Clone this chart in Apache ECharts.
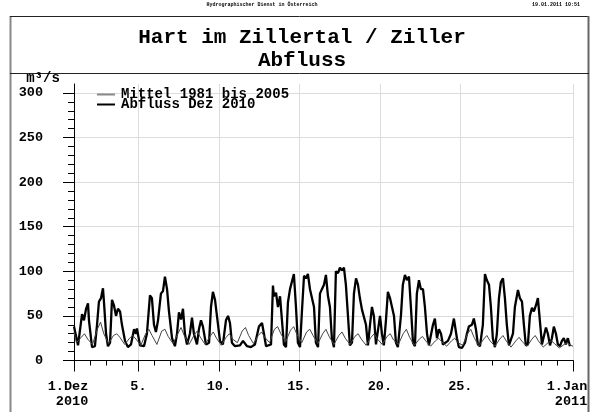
<!DOCTYPE html>
<html><head><meta charset="utf-8">
<script src="https://cdn.jsdelivr.net/npm/echarts@6/dist/echarts.min.js"></script>
<style>html,body{margin:0;padding:0;background:#fff}#c{width:596px;height:412px}</style>
</head><body><div id="c"></div>
<script>
// ---- data (x = days since 1 Dec 2010 00:00) ----
const seriesNames = ['Mittel 1981 bis 2005', 'Abfluss Dez 2010'];
const yMajorTicks = [0, 50, 100, 150, 200, 250, 300];
const yMinorTicks = [0,10,20,30,40,50,60,70,80,90,100,110,120,130,140,150,160,170,180,190,200,210,220,230,240,250,260,270,280,290,300];
const xMajorTicks = [0, 4, 9, 14, 19, 24, 31];
const xMinorTicks = [0,1,2,3,4,5,6,7,8,9,10,11,12,13,14,15,16,17,18,19,20,21,22,23,24,25,26,27,28,29,30,31];
const xTickLabels = ['1.Dez\n2010', '5.', '10.', '15.', '20.', '25.', '1.Jan\n2011'];

const abflussT = [0,0.12,0.25,0.37,0.50,0.62,0.75,0.87,0.93,1.12,1.30,1.43,1.55,1.68,1.80,1.86,1.99,2.11,2.24,2.36,2.48,2.61,2.73,2.86,2.98,3.17,3.35,3.54,3.73,3.85,3.91,4.10,4.35,4.53,4.72,4.84,4.97,5.09,5.22,5.40,5.53,5.65,5.78,5.90,6.09,6.27,6.40,6.52,6.65,6.77,6.89,7.02,7.20,7.33,7.45,7.64,7.76,7.89,8.01,8.20,8.39,8.51,8.63,8.76,8.88,9.07,9.25,9.44,9.57,9.69,9.81,10.00,10.12,10.31,10.50,10.75,10.99,11.24,11.49,11.68,11.80,11.93,12.05,12.24,12.36,12.42,12.55,12.67,12.80,12.92,13.04,13.17,13.29,13.42,13.54,13.66,13.79,13.91,14.04,14.16,14.29,14.41,14.53,14.66,14.78,14.91,15.03,15.16,15.28,15.40,15.53,15.65,15.78,15.90,16.02,16.15,16.27,16.40,16.52,16.65,16.77,16.89,17.02,17.14,17.27,17.39,17.52,17.64,17.76,17.89,18.01,18.14,18.26,18.39,18.51,18.63,18.76,18.88,19.01,19.13,19.25,19.38,19.50,19.63,19.75,19.88,20.00,20.12,20.31,20.43,20.56,20.68,20.81,20.93,21.06,21.18,21.30,21.43,21.55,21.68,21.80,21.93,22.05,22.17,22.30,22.42,22.55,22.67,22.80,22.92,23.04,23.23,23.42,23.60,23.79,23.91,24.10,24.29,24.41,24.53,24.72,24.84,24.97,25.09,25.22,25.40,25.53,25.65,25.78,25.90,26.02,26.15,26.27,26.40,26.52,26.65,26.77,26.89,27.02,27.14,27.27,27.39,27.58,27.70,27.83,27.95,28.07,28.20,28.32,28.45,28.57,28.70,28.82,28.94,29.07,29.19,29.32,29.44,29.57,29.69,29.81,29.94,30.06,30.19,30.31,30.43,30.56,30.68,30.81,31.00];
const abflussV = [38,28,17,15,52,45,58,64,45,15,16,40,66,70,81,66,30,16,20,68,62,50,58,55,40,22,15,18,35,30,36,17,16,30,73,70,40,32,45,75,78,94,80,55,25,16,30,54,46,58,30,18,30,48,30,18,35,45,38,18,20,60,77,68,50,22,18,45,50,42,20,16,15,17,22,16,15,18,38,42,30,16,15,18,84,72,76,60,72,45,18,15,65,80,78,97,60,20,15,55,95,92,97,80,82,60,20,15,75,80,85,96,72,60,25,15,100,98,104,101,104,85,50,17,20,75,92,85,70,57,58,40,17,40,60,50,18,20,50,30,17,45,77,70,72,50,20,15,50,85,96,90,94,60,20,16,75,90,80,80,60,30,17,18,40,47,25,35,30,18,17,22,30,47,25,15,14,20,30,38,40,47,35,18,16,40,97,90,85,60,25,15,30,70,88,92,70,40,17,16,30,60,79,70,66,40,17,18,50,59,55,62,70,45,18,20,37,30,17,25,38,30,18,16,22,25,18,25,16];

const mittelT = [0,0.15,0.45,0.65,0.85,1.15,1.45,1.65,1.85,2.15,2.45,2.65,2.85,3.15,3.45,3.65,3.85,4.15,4.45,4.65,4.85,5.15,5.45,5.65,5.85,6.15,6.45,6.65,6.85,7.15,7.45,7.65,7.85,8.15,8.45,8.65,8.85,9.15,9.45,9.65,9.85,10.15,10.45,10.65,10.85,11.15,11.45,11.65,11.85,12.15,12.45,12.65,12.85,13.15,13.45,13.65,13.85,14.15,14.45,14.65,14.85,15.15,15.45,15.65,15.85,16.15,16.45,16.65,16.85,17.15,17.45,17.65,17.85,18.15,18.45,18.65,18.85,19.15,19.45,19.65,19.85,20.15,20.45,20.65,20.85,21.15,21.45,21.65,21.85,22.15,22.45,22.65,22.85,23.15,23.45,23.65,23.85,24.15,24.45,24.65,24.85,25.15,25.45,25.65,25.85,26.15,26.45,26.65,26.85,27.15,27.45,27.65,27.85,28.15,28.45,28.65,28.85,29.15,29.45,29.65,29.85,30.15,30.45,30.65,30.85,31.00];
const mittelV = [32,20,26,30,24,18,35,43,30,19,28,30,26,18,25,28,24,17,30,35,28,18,33,35,27,19,30,37,28,18,28,33,26,18,27,32,25,17,26,30,24,20,33,37,28,19,28,32,26,20,35,38,30,21,34,38,29,20,32,35,28,19,30,35,27,18,28,32,25,18,27,30,24,17,26,30,24,18,27,30,23,18,30,35,26,17,24,27,22,16,22,25,21,16,22,25,20,17,30,35,26,16,24,28,22,16,24,28,22,15,22,26,21,16,24,28,22,15,20,22,19,14,18,20,17,16];

const FONT = 'Liberation Mono';
const pairs = (t, v) => t.map((x, i) => [x, v[i]]);

const chart = echarts.init(document.getElementById('c'), null, {renderer: 'canvas'});
const xBase = {type: 'value', min: 0, max: 31, position: 'bottom', gridIndex: 0};
const yBase = {type: 'value', min: 0, max: 310, position: 'left', gridIndex: 0};
chart.setOption({
  animation: false,
  backgroundColor: '#fff',
  grid: {left: 74, right: 23, top: 84, bottom: 51.5, containLabel: false, outerBoundsMode: 'none'},
  xAxis: [
    Object.assign({}, xBase, {
      axisLine: {show: true, onZero: false, lineStyle: {color: '#000', width: 1}},
      axisTick: {show: true, customValues: xMajorTicks, length: 11, lineStyle: {color: '#000', width: 1}},
      axisLabel: {show: true, customValues: xMajorTicks, margin: 19, color: '#000',
        fontFamily: FONT, fontWeight: 'bold', fontSize: 13.5, lineHeight: 15,
        formatter: v => { const i = xMajorTicks.indexOf(v); const s = xTickLabels[i];
          return s.indexOf('\n') >= 0 ? s.split('\n').map(p => '{r|' + p + '}').join('\n') : s; },
        rich: {r: {fontFamily: FONT, fontWeight: 'bold', fontSize: 13.5, lineHeight: 15, align: 'right', padding: [0, 12, 0, 0], color: '#000'}}},
      splitLine: {show: true, lineStyle: {color: '#dcdcdc', width: 1}}
    }),
    Object.assign({}, xBase, {
      axisLine: {show: false},
      axisTick: {show: true, customValues: xMinorTicks, length: 5, lineStyle: {color: '#000', width: 1}},
      axisLabel: {show: false},
      splitLine: {show: false}
    })
  ],
  yAxis: [
    Object.assign({}, yBase, {
      axisLine: {show: true, onZero: false, lineStyle: {color: '#000', width: 1}},
      axisTick: {show: true, customValues: yMajorTicks, length: 11, lineStyle: {color: '#000', width: 1}},
      axisLabel: {show: true, customValues: yMajorTicks, margin: 31, color: '#000',
        fontFamily: FONT, fontWeight: 'bold', fontSize: 13.5},
      splitLine: {show: true, lineStyle: {color: '#dcdcdc', width: 1}}
    }),
    Object.assign({}, yBase, {
      axisLine: {show: false},
      axisTick: {show: true, customValues: yMinorTicks, length: 6, lineStyle: {color: '#000', width: 1}},
      axisLabel: {show: false},
      splitLine: {show: false}
    })
  ],
  legend: {show: false},
  series: [
    {name: seriesNames[0], type: 'line', xAxisIndex: 0, yAxisIndex: 0, symbol: 'none', z: 3,
      lineStyle: {color: '#444', width: 1}, itemStyle: {color: '#777'}, data: pairs(mittelT, mittelV)},
    {name: seriesNames[1], type: 'line', xAxisIndex: 0, yAxisIndex: 0, symbol: 'none', z: 2,
      lineStyle: {color: '#000', width: 2.3}, itemStyle: {color: '#000'}, data: pairs(abflussT, abflussV)}
  ],
  graphic: [
    {type: 'line', z: 50, shape: {x1: 10.5, y1: 16, x2: 10.5, y2: 412}, style: {stroke: '#888', lineWidth: 2}},
    {type: 'line', z: 50, shape: {x1: 10, y1: 16.5, x2: 589, y2: 16.5}, style: {stroke: '#222', lineWidth: 1}},
    {type: 'line', z: 50, shape: {x1: 588.5, y1: 16, x2: 588.5, y2: 412}, style: {stroke: '#666', lineWidth: 2}},
    {type: 'line', z: 50, shape: {x1: 10, y1: 73.5, x2: 589, y2: 73.5}, style: {stroke: '#222', lineWidth: 1}},
    {type: 'text', z: 50, style: {text: 'Hydrographischer Dienst in Österreich', x: 262, y: 2, textAlign: 'center',
      font: 'bold 5px ' + FONT, fill: '#000'}},
    {type: 'text', z: 50, style: {text: '19.01.2011 10:51', x: 580, y: 2, textAlign: 'right',
      font: 'bold 5px ' + FONT, fill: '#000'}},
    {type: 'text', z: 50, style: {text: 'Hart im Zillertal / Ziller\nAbfluss', x: 302, y: 26, textAlign: 'center',
      font: 'bold 21px ' + FONT, lineHeight: 23, fill: '#000'}},
    {type: 'text', z: 50, style: {text: 'm³/s', x: 43, y: 71, textAlign: 'center',
      font: 'bold 14px ' + FONT, fill: '#000'}},
    // legend
    {type: 'line', z: 50, shape: {x1: 97, y1: 94.5, x2: 115, y2: 94.5}, style: {stroke: '#888', lineWidth: 2}},
    {type: 'line', z: 50, shape: {x1: 97, y1: 104.5, x2: 115, y2: 104.5}, style: {stroke: '#000', lineWidth: 2}},
    {type: 'text', z: 50, style: {text: seriesNames[0], x: 121, y: 94, textVerticalAlign: 'middle',
      font: 'bold 14px ' + FONT, fill: '#000'}},
    {type: 'text', z: 50, style: {text: seriesNames[1], x: 121, y: 104, textVerticalAlign: 'middle',
      font: 'bold 14px ' + FONT, fill: '#000'}}
  ]
});
</script></body></html>
